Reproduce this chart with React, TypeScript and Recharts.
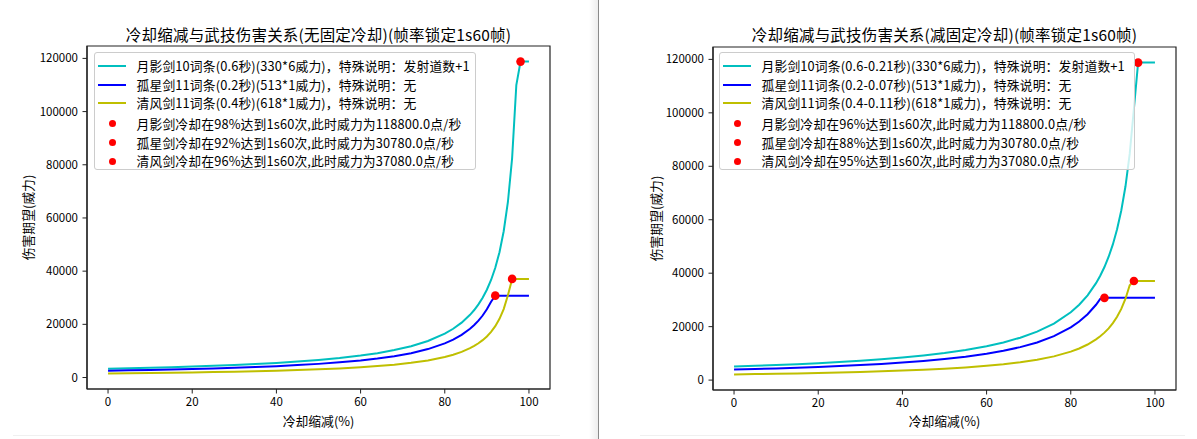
import React from 'react';
import { ComposedChart, Line, Scatter, XAxis, YAxis, Legend, Label, ReferenceArea } from 'recharts';

// ---- data ----
const cdrSteps = [0, 5, 10, 15, 20, 25, 30, 35, 40, 45, 50, 55, 60, 64, 68, 72, 76, 80, 82, 84, 86, 87, 88, 89, 90, 91, 92, 93, 94, 95, 96, 97, 98, 99, 100];

const leftMoon = [3300, 3474, 3667, 3882, 4125, 4400, 4714, 5077, 5500, 6000, 6600, 7333, 8250, 9167, 10313, 11786, 13750, 16500, 18333, 20625, 23571, 25385, 27500, 30000, 33000, 36667, 41250, 47143, 55000, 66000, 82500, 110000, 118800, 118800, 118800];
const leftLone = [2565, 2700, 2850, 3018, 3206, 3420, 3664, 3946, 4275, 4664, 5130, 5700, 6413, 7125, 8016, 9161, 10688, 12825, 14250, 16031, 18321, 19731, 21375, 23318, 25650, 28500, 30780, 30780, 30780, 30780, 30780, 30780, 30780, 30780, 30780];
const leftBreeze = [1545, 1626, 1717, 1818, 1931, 2060, 2207, 2377, 2575, 2809, 3090, 3433, 3863, 4292, 4828, 5518, 6438, 7725, 8583, 9656, 11036, 11885, 12875, 14045, 15450, 17167, 19313, 22071, 25750, 30900, 37080, 37080, 37080, 37080, 37080];

const rightMoon = [5077, 5344, 5641, 5973, 6346, 6769, 7253, 7811, 8462, 9231, 10154, 11282, 12692, 14103, 15865, 18132, 21154, 25385, 28205, 31731, 36264, 39053, 42308, 46154, 50769, 56410, 63462, 72527, 84615, 101538, 118800, 118800, 118800, 118800, 118800];
const rightLone = [3946, 4154, 4385, 4643, 4933, 5262, 5637, 6071, 6577, 7175, 7892, 8769, 9865, 10962, 12332, 14093, 16442, 19731, 21923, 24663, 28187, 30355, 30780, 30780, 30780, 30780, 30780, 30780, 30780, 30780, 30780, 30780, 30780, 30780, 30780];
const rightBreeze = [2131, 2243, 2368, 2507, 2664, 2841, 3044, 3278, 3552, 3875, 4262, 4736, 5328, 5920, 6659, 7611, 8879, 10655, 11839, 13319, 15222, 16392, 17759, 19373, 21310, 23678, 26638, 30443, 35517, 37080, 37080, 37080, 37080, 37080, 37080];

const leftCapCdr = [98, 92, 96];
const leftCapDps = [118800, 30780, 37080];
const rightCapCdr = [96, 88, 95];
const rightCapDps = [118800, 30780, 37080];

const xTicks = [0, 20, 40, 60, 80, 100];
const yTicks = [0, 20000, 40000, 60000, 80000, 100000, 120000];

const leftTitle = '冷却缩减与武技伤害关系(无固定冷却)(帧率锁定1s60帧)';
const rightTitle = '冷却缩减与武技伤害关系(减固定冷却)(帧率锁定1s60帧)';
const xLabel = '冷却缩减(%)';
const yLabel = '伤害期望(威力)';

const leftLabels = [
  '月影剑10词条(0.6秒)(330*6威力)，特殊说明：发射道数+1',
  '孤星剑11词条(0.2秒)(513*1威力)，特殊说明：无',
  '清风剑11词条(0.4秒)(618*1威力)，特殊说明：无',
  '月影剑冷却在98%达到1s60次,此时威力为118800.0点/秒',
  '孤星剑冷却在92%达到1s60次,此时威力为30780.0点/秒',
  '清风剑冷却在96%达到1s60次,此时威力为37080.0点/秒',
];
const rightLabels = [
  '月影剑10词条(0.6-0.21秒)(330*6威力)，特殊说明：发射道数+1',
  '孤星剑11词条(0.2-0.07秒)(513*1威力)，特殊说明：无',
  '清风剑11词条(0.4-0.11秒)(618*1威力)，特殊说明：无',
  '月影剑冷却在96%达到1s60次,此时威力为118800.0点/秒',
  '孤星剑冷却在88%达到1s60次,此时威力为30780.0点/秒',
  '清风剑冷却在95%达到1s60次,此时威力为37080.0点/秒',
];

const seriesColors = ['#00bfbf', '#0000ff', '#bfbf00'];
const seriesKeys = ['moon', 'lone', 'breeze'];

const FONT = '"Noto Sans CJK SC", "Noto Sans", sans-serif';
const SPINE = '#222';

function LegendBox({ labels, width }: { labels: string[]; width: number }) {
  return (
    <div
      style={{
        position: 'relative',
        width,
        height: 118,
        border: '1px solid #cccccc',
        borderRadius: 3,
        background: 'rgba(255,255,255,0.8)',
        boxSizing: 'border-box',
        fontFamily: FONT,
        fontSize: 12.8,
        color: '#000',
      }}
    >
      {labels.map((t, i) => {
        const y = 13 + i * 18.7 + (i >= 3 ? 1.7 : 0);
        return (
          <div key={i} style={{ position: 'absolute', left: 0, top: y - 10, height: 20, width: '100%' }}>
            {i < 3 ? (
              <div style={{ position: 'absolute', left: 3, top: 9, width: 28, height: 2, background: seriesColors[i] }} />
            ) : (
              <div style={{ position: 'absolute', left: 13.5, top: 6.5, width: 7, height: 7, borderRadius: '50%', background: '#ff0000' }} />
            )}
            <span style={{ position: 'absolute', left: 41.5, top: 0, lineHeight: '20px', whiteSpace: 'nowrap', letterSpacing: 0.15 }}>{t}</span>
          </div>
        );
      })}
    </div>
  );
}

type PanelProps = {
  left: number;
  width: number;
  yAxisWidth: number;
  marginRight: number;
  marginTop: number;
  marginBottom: number;
  title: string;
  series: number[][];
  capCdr: number[];
  capDps: number[];
  labels: string[];
  legendLeft: number;
  legendWidth: number;
  yLabelX: number;
};

function Panel(p: PanelProps) {
  const data = cdrSteps.map((c, i) => ({ cdr: c, moon: p.series[0][i], lone: p.series[1][i], breeze: p.series[2][i] }));
  const all = [...p.series[0], ...p.series[1], ...p.series[2], ...p.capDps];
  const lo = Math.min(...all);
  const hi = Math.max(...all);
  const pad = (hi - lo) * 0.05;
  const yDomain = [lo - pad, hi + pad];
  const plotLeft = p.yAxisWidth;
  const plotRight = p.width - p.marginRight;
  const plotTop = p.marginTop;
  const plotBottom = 439 - p.marginBottom - 30;
  const cx = (plotLeft + plotRight) / 2;
  const cy = (plotTop + plotBottom) / 2;
  return (
    <div style={{ position: 'absolute', left: p.left, top: 0, width: p.width, height: 439 }}>
      <div
        style={{
          position: 'absolute',
          left: plotLeft - 60,
          width: plotRight - plotLeft + 120,
          top: 24,
          textAlign: 'center',
          fontFamily: FONT,
          fontSize: 15.5,
          lineHeight: '20px',
          color: '#000',
          whiteSpace: 'nowrap',
          letterSpacing: 0.2,
          zIndex: 2,
        }}
      >
        {p.title}
      </div>
      <ComposedChart
        width={p.width}
        height={439}
        data={data}
        margin={{ top: p.marginTop, right: p.marginRight, bottom: p.marginBottom, left: 0 }}
      >
        <XAxis
          dataKey="cdr"
          type="number"
          domain={[-5, 105]}
          ticks={xTicks}
          height={30}
          tickSize={4.5}
          tickMargin={4}
          interval={0}
          tick={{ fontSize: 11.5, fill: '#000', fontFamily: FONT }}
          axisLine={{ stroke: SPINE, strokeWidth: 1.2 }}
          tickLine={{ stroke: SPINE }}
        >
          <Label
            content={() => (
              <text x={cx} y={420} textAnchor="middle" dominantBaseline="central" fontFamily={FONT} fontSize={12.8} fill="#000">
                {xLabel}
              </text>
            )}
          />
        </XAxis>
        <YAxis
          type="number"
          domain={yDomain}
          ticks={yTicks}
          width={p.yAxisWidth}
          tickSize={4.5}
          tickMargin={4.5}
          interval={0}
          allowDataOverflow
          tick={{ fontSize: 11.5, fill: '#000', fontFamily: FONT }}
          axisLine={{ stroke: SPINE, strokeWidth: 1.2 }}
          tickLine={{ stroke: SPINE }}
        >
          <Label
            content={() => (
              <text
                x={p.yLabelX}
                y={cy}
                textAnchor="middle"
                dominantBaseline="central"
                fontFamily={FONT}
                fontSize={12.8}
                fill="#000"
                transform={`rotate(-90 ${p.yLabelX} ${cy})`}
              >
                {yLabel}
              </text>
            )}
          />
        </YAxis>
        <ReferenceArea
          x1={-5}
          x2={105}
          y1={yDomain[0]}
          y2={yDomain[1]}
          fill="none"
          fillOpacity={0}
          stroke={SPINE}
          strokeWidth={1.2}
          strokeOpacity={1}
          ifOverflow="visible"
        />
        <Legend
          layout="horizontal"
          verticalAlign="middle"
          align="center"
          wrapperStyle={{ position: 'absolute', left: p.legendLeft, top: 52, width: p.legendWidth, height: 118, margin: 0, padding: 0 }}
          content={() => <LegendBox labels={p.labels} width={p.legendWidth} />}
        />
        {p.capCdr.map((c, i) => (
          <Scatter
            key={'cap' + i}
            name={p.labels[3 + i]}
            data={[{ cdr: c, dps: p.capDps[i] }]}
            dataKey="dps"
            fill="#ff0000"
            isAnimationActive={false}
            shape={(s: any) => <circle cx={s.cx} cy={s.cy} r={4.3} fill="#ff0000" />}
          />
        ))}
        {seriesKeys.map((k, i) => (
          <Line
            key={k}
            type="linear"
            dataKey={k}
            name={p.labels[i]}
            stroke={seriesColors[i]}
            strokeWidth={2}
            dot={false}
            activeDot={false}
            isAnimationActive={false}
          />
        ))}
      </ComposedChart>
    </div>
  );
}

export default function App() {
  return (
    <div style={{ position: 'absolute', left: 0, top: 0, width: 1197, height: 439, background: '#fff', overflow: 'hidden' }}>
      <Panel
        left={0}
        width={598}
        yAxisWidth={87}
        marginRight={48}
        marginTop={46}
        marginBottom={20}
        title={leftTitle}
        series={[leftMoon, leftLone, leftBreeze]}
        capCdr={leftCapCdr}
        capDps={leftCapDps}
        labels={leftLabels}
        legendLeft={94}
        legendWidth={382}
        yLabelX={27}
      />
      <Panel
        left={598}
        width={599}
        yAxisWidth={115}
        marginRight={21}
        marginTop={47}
        marginBottom={19}
        title={rightTitle}
        series={[rightMoon, rightLone, rightBreeze]}
        capCdr={rightCapCdr}
        capDps={rightCapDps}
        labels={rightLabels}
        legendLeft={121}
        legendWidth={416}
        yLabelX={57}
      />
      <div style={{ position: 'absolute', left: 589, top: 0, width: 9, height: 439, background: 'linear-gradient(to right, rgba(0,0,0,0), rgba(0,0,0,0.07))' }} />
      <div style={{ position: 'absolute', left: 598, top: 0, width: 1, height: 439, background: '#8a8a8a' }} />
      <div style={{ position: 'absolute', left: 13, top: 435, width: 547, height: 1, background: '#f0f0f0' }} />
      <div style={{ position: 'absolute', left: 640, top: 435, width: 545, height: 1, background: '#f0f0f0' }} />
    </div>
  );
}
